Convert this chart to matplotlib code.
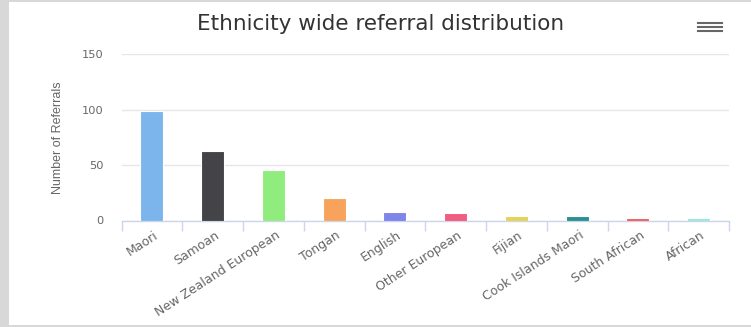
import matplotlib
matplotlib.use('Agg')
import matplotlib.pyplot as plt
from matplotlib.patches import Rectangle
import numpy as np

# chart data
categories = ['Maori', 'Samoan', 'New Zealand European', 'Tongan', 'English',
              'Other European', 'Fijian', 'Cook Islands Maori', 'South African', 'African']
referrals = [99, 63, 46, 20, 8, 7, 4, 4, 2, 2]
bar_colors = ['#7cb5ec', '#434348', '#90ed7d', '#f7a35c', '#8085e9',
              '#f15c80', '#e4d354', '#2b908f', '#f45b5b', '#91e8e1']
y_ticks = [0, 50, 100, 150]


def main():
    W, H = 751, 327
    fig = plt.figure(figsize=(W / 100, H / 100), dpi=100)
    fig.patch.set_facecolor('#d8d8d8')
    # white card behind everything
    card = Rectangle((9 / W, 2 / H), 1 - 9 / W, 1 - 4 / H,
                     transform=fig.transFigure, facecolor='white',
                     edgecolor='none', zorder=-5)
    fig.add_artist(card)

    ax = fig.add_axes([121.5 / W, (H - 220.5) / H, 607.5 / W, 166.2 / H])
    ax.set_facecolor('none')
    x = np.arange(len(categories))
    ax.bar(x, referrals, width=0.38, color=bar_colors, edgecolor='white',
           linewidth=0.8, zorder=3)

    ax.set_xlim(-0.5, len(categories) - 0.5)
    ax.set_ylim(0, 150)
    ax.set_yticks(y_ticks)
    ax.set_yticklabels([str(v) for v in y_ticks], fontsize=8.2, color='#666666')
    ax.grid(axis='y', color='#e6e6e6', linewidth=1, zorder=0)
    ax.tick_params(axis='y', length=0, pad=13)

    # x axis: ticks on category boundaries, labels centred on bars
    ax.set_xticks(np.arange(len(categories) + 1) - 0.5)
    ax.set_xticklabels([])
    ax.set_xticks(x + 0.03, minor=True)
    ax.set_xticklabels(categories, minor=True, rotation=33, ha='right',
                       rotation_mode='anchor', fontsize=9, color='#666666')
    ax.tick_params(axis='x', which='major', length=7, color='#ccd6eb', width=1)
    ax.tick_params(axis='x', which='minor', length=0, pad=6)

    for s in ['top', 'right', 'left']:
        ax.spines[s].set_visible(False)
    ax.spines['bottom'].set_color('#ccd6eb')
    ax.spines['bottom'].set_linewidth(1)

    ax.set_ylabel('Number of Referrals', fontsize=9, color='#666666',
                  family=['Liberation Sans Narrow', 'Liberation Sans'], labelpad=13)

    fig.text(381 / W, 1 - 30 / H, 'Ethnicity wide referral distribution',
             ha='center', va='baseline', fontsize=15.5, color='#333333')

    # hamburger menu icon
    for yy in [22.7, 26.8, 31.2]:
        fig.add_artist(plt.Line2D([698 / W, 722 / W], [1 - yy / H, 1 - yy / H],
                                  color='#666666', linewidth=1.5))

    fig.savefig('out.png', dpi=100, facecolor=fig.get_facecolor())


if __name__ == '__main__':
    main()
